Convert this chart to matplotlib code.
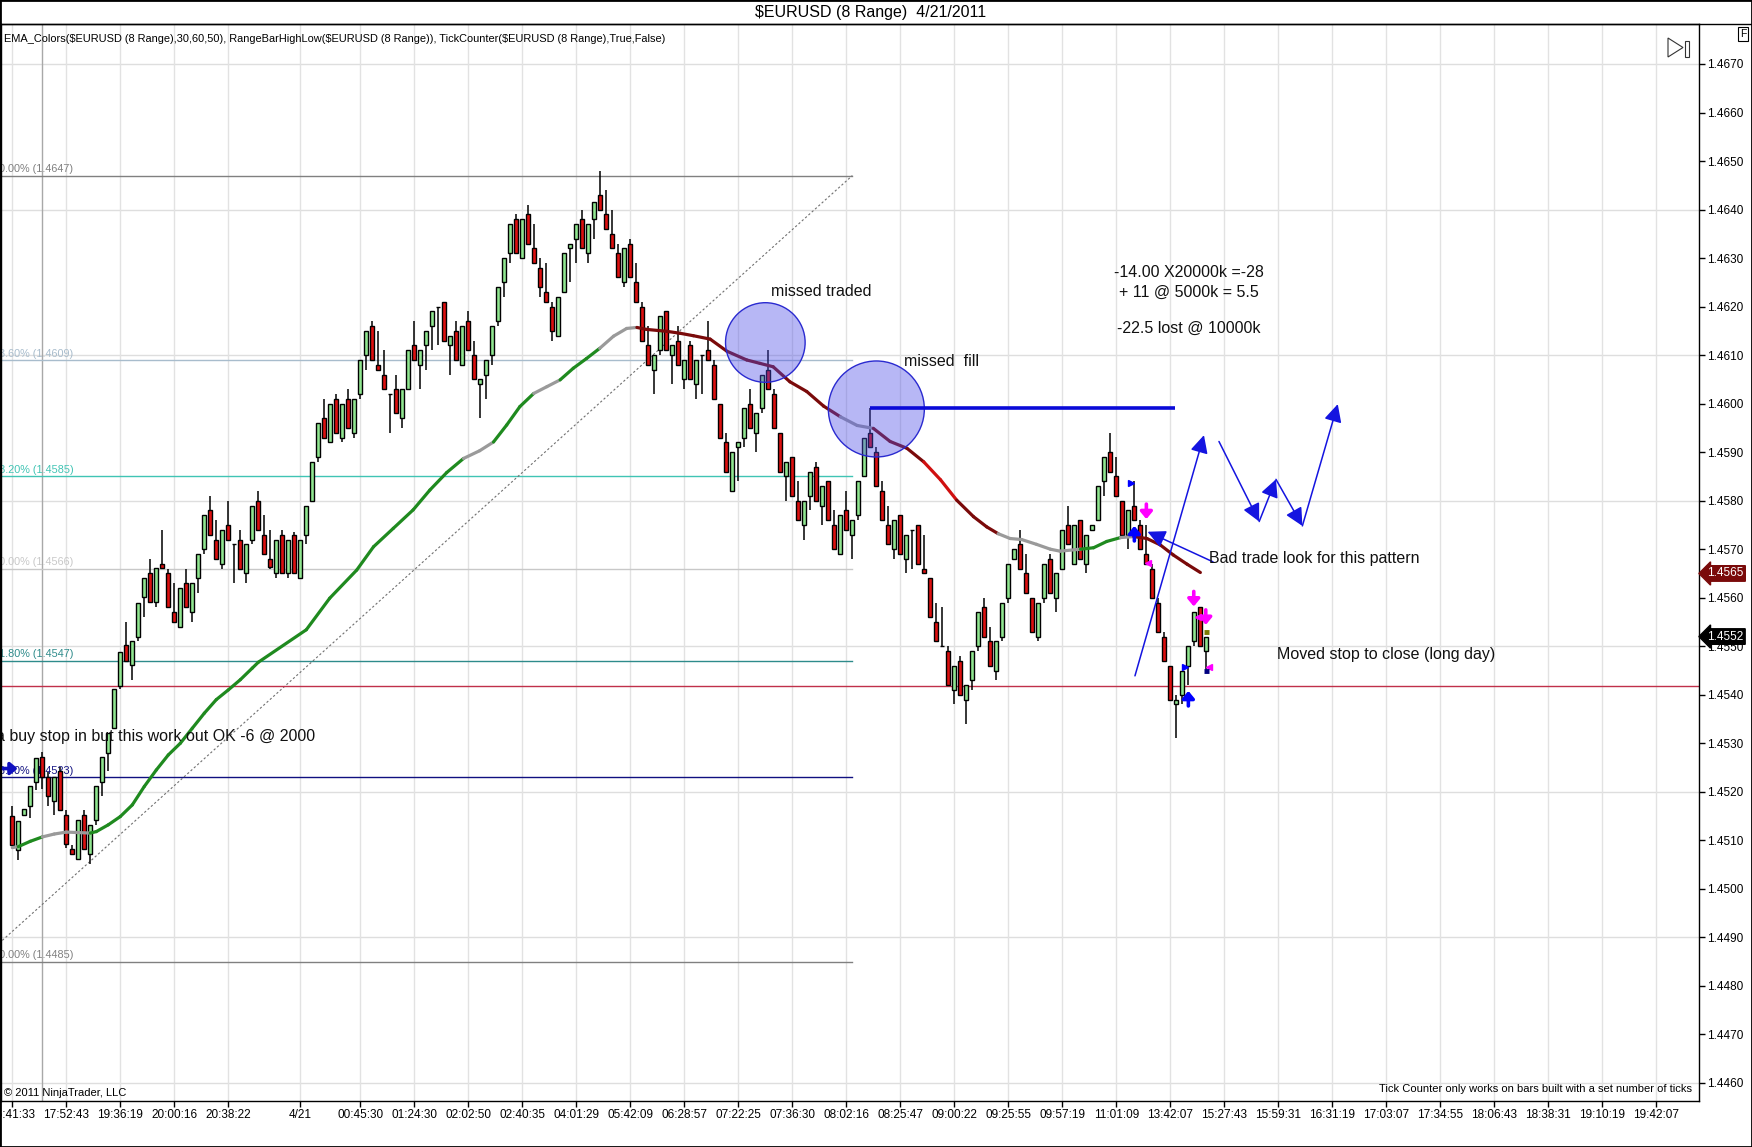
import numpy as np
import matplotlib
matplotlib.use("Agg")
import matplotlib.pyplot as plt
import matplotlib.transforms as mtrans
from matplotlib.collections import LineCollection
from matplotlib.lines import Line2D
from matplotlib.patches import Rectangle, Polygon

plt.rcParams['font.family'] = ['Liberation Sans', 'DejaVu Sans']

# ---- 8 pip range bars, EURUSD (values in pips, 1 pip = 0.0001) ----
open_pips = [
    14515, 14508, 14515.2, 14517, 14522.1, 14527.2, 14523, 14518.1, 14524.2, 14515.3,
    14508.2, 14506.1, 14515.3, 14507.2, 14514.1, 14522.1, 14528.1, 14533.1, 14541.8, 14550.2,
    14546.2, 14552, 14560.1, 14565, 14559.1, 14566.9, 14565, 14557, 14554, 14563,
    14557, 14564, 14570, 14578, 14572, 14567, 14575, 14571, 14572, 14565,
    14572, 14580, 14573, 14568, 14565, 14573, 14565, 14573, 14564, 14573,
    14580, 14589, 14597, 14592, 14601, 14593, 14601, 14594, 14602, 14610,
    14616, 14608, 14606, 14602, 14603, 14597, 14603, 14612, 14608, 14612,
    14616, 14620, 14621, 14612, 14615, 14608, 14617, 14610, 14604, 14606,
    14610, 14617, 14625, 14631, 14638, 14630, 14639, 14632, 14628, 14623,
    14620, 14614, 14623, 14632, 14634, 14638, 14631, 14638, 14643, 14639,
    14635, 14631, 14625, 14633, 14625, 14620, 14612, 14607, 14611, 14619,
    14610, 14613, 14605, 14612, 14604, 14610, 14611, 14608, 14600, 14592,
    14582, 14591, 14593, 14600, 14594, 14599, 14607, 14602, 14594, 14585,
    14589, 14580, 14575, 14581, 14587, 14579, 14584, 14575, 14569, 14578,
    14573, 14577, 14585, 14594, 14590, 14582, 14575, 14570, 14577, 14568,
    14574, 14575, 14566, 14564, 14555, 14550, 14549, 14541, 14547, 14539,
    14543, 14550, 14558, 14551, 14545, 14552, 14560, 14568, 14571, 14565,
    14560, 14552, 14560, 14568, 14560, 14566, 14575, 14567, 14576, 14567,
    14574, 14576, 14584, 14590, 14585, 14580, 14573, 14579, 14575, 14569,
    14566, 14559, 14552, 14546, 14538, 14540, 14546, 14551, 14558, 14549,
]
high_pips = [
    14517, 14514, 14516.4, 14521.2, 14527, 14528.3, 14524, 14523, 14525.2, 14516.3,
    14509, 14514.1, 14516.3, 14513.2, 14521.2, 14527.1, 14532.1, 14541.2, 14548.9, 14555,
    14551, 14559, 14564, 14568, 14566.1, 14574, 14566, 14563, 14562, 14566,
    14563, 14569, 14577, 14581, 14576, 14574, 14580, 14571, 14574, 14571,
    14579, 14582, 14577, 14574, 14572, 14574, 14572, 14573.5, 14572, 14579,
    14588, 14596, 14601, 14600, 14602, 14600, 14603, 14601, 14609, 14615,
    14617, 14615, 14611, 14602, 14606, 14603, 14611, 14617, 14611, 14615,
    14619, 14620, 14621, 14614, 14617, 14616, 14619, 14613, 14605, 14609,
    14616, 14624, 14630, 14637, 14639, 14638, 14641, 14637, 14630, 14629,
    14621, 14622, 14631, 14633, 14637, 14640, 14637, 14641.6, 14648, 14644,
    14640, 14633, 14632, 14634, 14629, 14621, 14616, 14610, 14618, 14619,
    14612, 14616, 14609, 14613, 14609, 14610, 14617, 14609, 14600, 14594,
    14590, 14592, 14599, 14603, 14598, 14606, 14611, 14603, 14594, 14588,
    14589, 14584, 14580, 14586, 14588, 14583, 14584, 14578, 14577, 14582,
    14576, 14584, 14593, 14599, 14591, 14584, 14579, 14576, 14577, 14573,
    14574, 14575, 14573, 14564, 14559, 14558, 14550, 14546, 14548, 14542,
    14549, 14557, 14560, 14554, 14551, 14559, 14567, 14570, 14574, 14569,
    14560, 14559, 14567, 14569, 14565, 14574, 14579, 14575, 14576, 14573,
    14575, 14583, 14589, 14594, 14589, 14580, 14578, 14584, 14576, 14575,
    14567, 14560, 14553, 14546, 14540, 14545, 14550, 14557, 14558, 14552,
]
low_pips = [
    14509, 14506, 14515.2, 14514.7, 14520.4, 14520.5, 14517.1, 14515.2, 14516.3, 14508.5,
    14507, 14506.1, 14508.2, 14505.2, 14513.2, 14519.2, 14524.2, 14533.1, 14541.2, 14547,
    14543, 14551, 14556, 14559.1, 14558, 14566.1, 14558, 14555, 14554, 14558,
    14555, 14561, 14569, 14573, 14568, 14566, 14572, 14563, 14566, 14563,
    14571, 14574, 14569, 14566, 14564, 14565, 14564, 14565, 14564, 14571,
    14580, 14588, 14593, 14592, 14594, 14592, 14595, 14593, 14601, 14607,
    14609, 14607, 14603, 14594, 14598, 14595, 14603, 14609, 14603, 14607,
    14611, 14612, 14613, 14606, 14609, 14608, 14611, 14605, 14597, 14601,
    14608, 14616, 14622, 14629, 14631, 14630, 14633, 14629, 14622, 14621,
    14613, 14614, 14623, 14625, 14629, 14632, 14629, 14634, 14640, 14636,
    14632, 14626, 14624, 14626, 14621, 14613, 14608, 14602, 14610, 14611,
    14604, 14608, 14603, 14605, 14601, 14602, 14609, 14601, 14593, 14586,
    14582, 14584, 14591, 14595, 14590, 14598, 14603, 14595, 14586, 14580,
    14581, 14576, 14572, 14578, 14580, 14575, 14576, 14570, 14569, 14574,
    14568, 14576, 14585, 14591, 14583, 14576, 14571, 14568, 14569, 14565,
    14566, 14567, 14565, 14556, 14551, 14550, 14542, 14538, 14540, 14534,
    14541, 14549, 14552, 14546, 14543, 14551, 14559, 14568, 14566, 14561,
    14553, 14551, 14559, 14561, 14557, 14566, 14571, 14567, 14568, 14565,
    14574, 14576, 14581, 14586, 14581, 14573, 14570, 14576, 14570, 14567,
    14560, 14553, 14547, 14539, 14531, 14538, 14542, 14550, 14550, 14545,
]
close_pips = [
    14509, 14514, 14516.4, 14521.2, 14527, 14523, 14519.1, 14523, 14516.3, 14509.2,
    14507.2, 14514.1, 14508.2, 14513.2, 14521.2, 14527.1, 14532.1, 14541.2, 14548.9, 14547,
    14551, 14559, 14564, 14559.1, 14566.1, 14566.1, 14558, 14555, 14562, 14558,
    14563, 14569, 14577, 14573, 14568, 14574, 14572, 14571, 14566, 14571,
    14579, 14574, 14569, 14566.3, 14572, 14565, 14572, 14565, 14572, 14579,
    14588, 14596, 14593, 14600, 14594, 14600, 14595, 14601, 14609, 14615,
    14609, 14607, 14603, 14602, 14598, 14603, 14611, 14609, 14611, 14615,
    14619, 14620, 14613, 14614, 14609, 14616, 14611, 14605, 14605, 14609,
    14616, 14624, 14630, 14637, 14631, 14638, 14633, 14629, 14624, 14621,
    14615, 14622, 14631, 14633, 14637, 14632, 14637, 14641.6, 14640, 14636,
    14632, 14626, 14632, 14626, 14621, 14613, 14608, 14610, 14618, 14611,
    14612, 14608, 14609, 14605, 14609, 14610, 14609, 14601, 14593, 14586,
    14590, 14592, 14599, 14595, 14598, 14606, 14603, 14595, 14586, 14588,
    14581, 14576, 14580, 14586, 14580, 14583, 14576, 14570, 14577, 14574,
    14576, 14584, 14593, 14591, 14583, 14576, 14571, 14576, 14569, 14573,
    14574, 14567, 14565, 14556, 14551, 14550, 14542, 14546, 14540, 14542,
    14549, 14557, 14552, 14546, 14551, 14559, 14567, 14570, 14566, 14561,
    14553, 14559, 14567, 14561, 14565, 14574, 14571, 14575, 14568, 14573,
    14575, 14583, 14589, 14586, 14581, 14573, 14578, 14576, 14570, 14567,
    14560, 14553, 14547, 14539, 14539, 14545, 14550, 14557, 14550, 14552,
]

# EMA readings (bar position, pips, colour state)
ema_bars = [0, 1, 3, 5, 7, 9, 11, 13, 14, 16, 18, 20, 22, 24, 26, 28, 30, 32, 34, 36,
            38, 40, 41, 49, 52.9, 57.4, 60.2, 63.5, 66.8, 69.6, 72.4, 75.2, 77.9, 80.2,
            82.4, 84.6, 86.9, 89.1, 91.3, 93.5, 95.7, 97.9, 100.2, 102.4, 104.1, 105.7,
            109.1, 111.3, 113.5, 116.3, 119.1, 122.4, 124.6, 126.8, 129.6, 132.4, 135.2,
            138.0, 140.8, 143.5, 146.3, 149.1, 151.9, 154.7, 157.4, 160.2, 162.4, 164.3,
            166.3, 168.2, 170.7, 173.0, 174.6, 178.0, 180.2, 182.4, 184.7, 186.9, 189.1,
            191.3, 193.5, 195.8, 198.0]
ema_pips = [14508.5, 14508.7, 14509.8, 14510.7, 14511.3, 14511.7, 14511.6, 14511.5, 14511.8,
            14513.2, 14514.9, 14517.3, 14521.1, 14524.5, 14527.6, 14530.0, 14533.1, 14536.2,
            14539.0, 14541.0, 14543.1, 14545.5, 14546.7, 14553.4, 14559.9, 14565.7, 14570.5,
            14574.3, 14578.1, 14582.2, 14585.8, 14588.7, 14590.3, 14592.1, 14595.6, 14599.4,
            14602.1, 14603.5, 14604.9, 14607.3, 14609.3, 14611.4, 14613.9, 14615.5, 14615.7,
            14615.3, 14614.9, 14614.5, 14614.0, 14613.3, 14610.8, 14609.0, 14608.3, 14607.6,
            14604.5, 14602.5, 14599.5, 14597.3, 14595.5, 14594.9, 14592.2, 14590.8, 14588.0,
            14584.3, 14580.1, 14576.7, 14574.6, 14573.2, 14572.2, 14572.0, 14571.0, 14570.0,
            14569.6, 14570.0, 14570.3, 14571.6, 14572.4, 14572.6, 14572.2, 14570.9, 14568.8,
            14566.9, 14565.2]
ema_state = ['f', 'f', 'u', 'u', 'f', 'f', 'f', 'f', 'u', 'u', 'u', 'u', 'u', 'u', 'u', 'u',
             'u', 'u', 'u', 'u', 'u', 'u', 'u', 'u', 'u', 'u', 'u', 'u', 'u', 'u', 'u', 'u',
             'f', 'f', 'u', 'u', 'u', 'f', 'f', 'u', 'u', 'u', 'f', 'f', 'f', 'd', 'd', 'd',
             'd', 'd', 'd', 'd', 'd', 'd', 'd', 'd', 'd', 'd', 'f', 'f', 'd', 'd', 'd', 'D',
             'D', 'd', 'd', 'd', 'f', 'f', 'f', 'f', 'f', 'f', 'u', 'u', 'u', 'f', 'd', 'd',
             'd', 'd', 'd']
ema_colors = {'u': '#1f8a1f', 'f': '#9a9a9a', 'd': '#7a0a0a', 'D': '#d01010'}

# fibonacci retracement
fib_levels = [1.4647, 1.4609, 1.4585, 1.4566, 1.4547, 1.4523, 1.4485]
fib_pct = ['0.00%', '23.60%', '38.20%', '50.00%', '61.80%', '76.40%', '100.00%']
fib_colors = ['#808080', '#a8bccc', '#40c4b4', '#c8c8c8', '#2e8b8b', '#101080', '#808080']
fib_start, fib_end = -5.6, 140

stop_level = 1.45418
missed_fill_level = 1.4599

xtick_bars = [0, 9, 18, 27, 36, 48, 58, 67, 76, 85, 94, 103, 112, 121, 130, 139, 148, 157,
              166, 175, 184, 193, 202, 211, 220, 229, 238, 247, 256, 265, 274]
xtick_labels = ['16:41:33', '17:52:43', '19:36:19', '20:00:16', '20:38:22', '4/21', '00:45:30',
                '01:24:30', '02:02:50', '02:40:35', '04:01:29', '05:42:09', '06:28:57',
                '07:22:25', '07:36:30', '08:02:16', '08:25:47', '09:00:22', '09:25:55',
                '09:57:19', '11:01:09', '13:42:07', '15:27:43', '15:59:31', '16:31:19',
                '17:03:07', '17:34:55', '18:06:43', '18:38:31', '19:10:19', '19:42:07']
hgrid_levels = [1.4460, 1.4490, 1.4520, 1.4550, 1.4580, 1.4610, 1.4640, 1.4670]

opens = np.array(open_pips) / 10000
highs = np.array(high_pips) / 10000
lows = np.array(low_pips) / 10000
closes = np.array(close_pips) / 10000
ema = np.array(ema_pips) / 10000

W, H = 1752, 1147
fig = plt.figure(figsize=(W / 100, H / 100), dpi=100)
px_l, px_r, px_t, px_b = 1, 1699, 24, 1101
ax = fig.add_axes([px_l / W, 1 - px_b / H, (px_r - px_l) / W, (px_b - px_t) / H])
ax.set_xlim(-1.88, 281.1)
ax.set_ylim(1.445628, 1.467824)

# grid
for lv in hgrid_levels:
    ax.axhline(lv, color='#dedede', lw=1, zorder=0)
for b in xtick_bars:
    ax.axvline(b, color='#e2e2e2', lw=1, zorder=0)
ax.axvline(5, color='#a8a8a8', lw=1, zorder=0.5)  # session break

# fib lines + labels
for lv, pct, col in zip(fib_levels, fib_pct, fib_colors):
    ax.plot([fib_start, fib_end], [lv, lv], color=col, lw=1, zorder=1)
    ax.text(10.2, lv + 0.00003, f'{pct} ({lv:.4f})', ha='right', va='bottom',
            fontsize=7.8, color=col, clip_on=True, zorder=1)
ax.plot([fib_start, fib_end], [fib_levels[-1], fib_levels[0]], color='#707070',
        lw=0.8, ls=(0, (2, 2)), zorder=1)

ax.axhline(stop_level, color='#c0304a', lw=1, zorder=1)

# candles
x = np.arange(len(opens))
up = closes >= opens
body_bot = np.minimum(opens, closes)
body_h = np.abs(closes - opens)
ax.vlines(x, lows, highs, color='black', lw=1.1, zorder=2)
ax.bar(x[up], body_h[up], bottom=body_bot[up], width=0.7, color='#90e690',
       edgecolor='black', lw=1, zorder=3)
ax.bar(x[~up], body_h[~up], bottom=body_bot[~up], width=0.7, color='#dd1010',
       edgecolor='black', lw=1, zorder=3)

# EMA coloured line
pts = np.column_stack([ema_bars, ema])
segs = [[pts[i], pts[i + 1]] for i in range(len(pts) - 1)]
cols = [ema_colors[s] for s in ema_state[1:]]
ax.add_collection(LineCollection(segs, colors=cols, linewidths=2.3, zorder=4,
                                 capstyle='round'))

# circles
ax.scatter([125.5, 144.0], [1.46126, 1.45989], s=[3284, 4778],
           facecolor=(0.3, 0.3, 0.9, 0.4), edgecolor='#2a2ad0', lw=1, zorder=5)

ax.plot([143, 193.8], [missed_fill_level, missed_fill_level], color='#0a0ad8', lw=2.6,
        zorder=6, solid_capstyle='butt')

# annotations text
tkw = dict(fontsize=11.5, color='#111111', zorder=9, va='center')
ax.text(126.5, 1.46231, 'missed traded', ha='left', **tkw)
ax.text(148.6, 1.46087, 'missed  fill', ha='left', **tkw)
ax.text(196.1, 1.46270, '-14.00 X20000k =-28', ha='center', **tkw)
ax.text(196.1, 1.46229, '+ 11 @ 5000k = 5.5', ha='center', **tkw)
ax.text(196.1, 1.46155, '-22.5 lost @ 10000k', ha='center', **tkw)
ax.text(199.5, 1.45681, 'Bad trade look for this pattern', ha='left', **tkw)
ax.text(210.8, 1.45483, 'Moved stop to close (long day)', ha='left', **tkw)
ax.text(-2.77, 1.45314, 'a buy stop in but this work out OK -6 @ 2000', ha='left',
        clip_on=True, **tkw)


def draw_arrow(tail, tip, lw=1.1, color='#1414e0', scale=18, head='0.6', width='0.3'):
    ax.annotate('', xy=tip, xytext=tail, zorder=8,
                arrowprops=dict(arrowstyle=f'-|>,head_length={head},head_width={width}',
                                color=color, lw=lw, mutation_scale=scale,
                                shrinkA=0, shrinkB=0))


draw_arrow((187.1, 1.45439), (198.6, 1.45935))
draw_arrow((201.1, 1.45922), (207.8, 1.45757))
draw_arrow((207.8, 1.45757), (210.6, 1.45844))
draw_arrow((210.6, 1.45844), (215.0, 1.45748))
draw_arrow((215.0, 1.45748), (220.9, 1.45999))
draw_arrow((200.1, 1.45674), (189.2, 1.45736))

# execution markers
for bx, y0, y1 in [(189.0, 1.45793, 1.45762), (196.9, 1.45613, 1.45582), (198.9, 1.45575, 1.45544)]:
    draw_arrow((bx, y0), (bx, y1), lw=2.6, color='#ff00ff', scale=7, head='0.6', width='0.5')
for bx, y0, y1 in [(187.0, 1.45717, 1.45748), (196.0, 1.45377, 1.45408)]:
    draw_arrow((bx, y0), (bx, y1), lw=2.6, color='#0000ff', scale=7, head='0.6', width='0.5')
draw_arrow((-2.5, 1.45248), (0.9, 1.45248), lw=2.6, color='#1010c0', scale=7, head='0.6',
           width='0.5')
ax.plot([186.4, 195.4], [1.45837, 1.45457], ls='none', marker='>', ms=5, color='#0000ff', zorder=8)
ax.plot([189.3, 197.6, 199.5], [1.45672, 1.45560, 1.45458], ls='none', marker='<', ms=5,
        color='#ff00ff', zorder=8)
ax.plot([198.6, 199.4], [1.4553, 1.4553], color='#7a7a00', lw=3.5, solid_capstyle='butt', zorder=8)
ax.plot([198.6, 199.4], [1.45449, 1.45449], color='#000080', lw=3.5, solid_capstyle='butt', zorder=8)

# axes styling
ax.yaxis.tick_right()
yt = np.round(np.arange(1.4460, 1.46705, 0.001), 4)
ax.set_yticks(yt)
ax.set_yticklabels([f'{v:.4f}' for v in yt])
ax.tick_params(axis='y', direction='out', length=4, width=1, labelsize=8.5, pad=1.5)
ax.set_xticks(xtick_bars)
ax.set_xticklabels(xtick_labels)
ax.tick_params(axis='x', direction='out', length=4, width=1, labelsize=8.5, pad=1.5)
for sp in ax.spines.values():
    sp.set_color('black')
    sp.set_linewidth(1)

# price flags on the right scale
trans = mtrans.blended_transform_factory(ax.transAxes, ax.transData)
ax.text(1.0048, 1.4565, '1.4565', transform=trans, ha='left', va='center', fontsize=8.5,
        color='white', clip_on=False, zorder=10,
        bbox=dict(boxstyle='larrow,pad=0.15', fc='#7a0a0a', ec='#7a0a0a'))
ax.text(1.0048, 1.4552, '1.4552', transform=trans, ha='left', va='center', fontsize=8.5,
        color='white', clip_on=False, zorder=10,
        bbox=dict(boxstyle='larrow,pad=0.15', fc='black', ec='black'))

# header texts
ax.text(0.0018, 0.986, 'EMA_Colors($EURUSD (8 Range),30,60,50), RangeBarHighLow($EURUSD (8 Range)), '
        'TickCounter($EURUSD (8 Range),True,False)', transform=ax.transAxes, fontsize=7.9,
        ha='left', va='center', color='black')
ax.text(0.0015, 0.0074, '\u00a9 2011 NinjaTrader, LLC', transform=ax.transAxes, fontsize=8,
        ha='left', va='center')
ax.text(0.9959, 0.0111, 'Tick Counter only works on bars built with a set number of ticks',
        transform=ax.transAxes, fontsize=8, ha='right', va='center')

fig.text(871 / W, 1 - 13 / H, '$EURUSD (8 Range)  4/21/2011', ha='center', va='center',
         fontsize=11.5)

# frame, top rule and small icons
fig.add_artist(Line2D([0, 1], [1 - px_t / H] * 2, color='black', lw=1, transform=fig.transFigure))
fig.add_artist(Rectangle((0, 0), 1, 1, transform=fig.transFigure, fill=False, ec='black', lw=2))
tri = [(1668 / W, 1 - 38 / H), (1668 / W, 1 - 57 / H), (1683 / W, 1 - 47.5 / H)]
fig.add_artist(Polygon(tri, closed=True, fill=False, ec='#333333', lw=0.8, transform=fig.transFigure))
fig.add_artist(Rectangle((1685 / W, 1 - 57 / H), 4 / W, 16 / H, fill=False, ec='#333333', lw=0.8,
                         transform=fig.transFigure))
fig.text(1743 / W, 1 - 34 / H, 'F', ha='center', va='center', fontsize=7.5,
         bbox=dict(boxstyle='square,pad=0.2', fc='white', ec='black', lw=0.8))

fig.savefig('out.png', dpi=100)
